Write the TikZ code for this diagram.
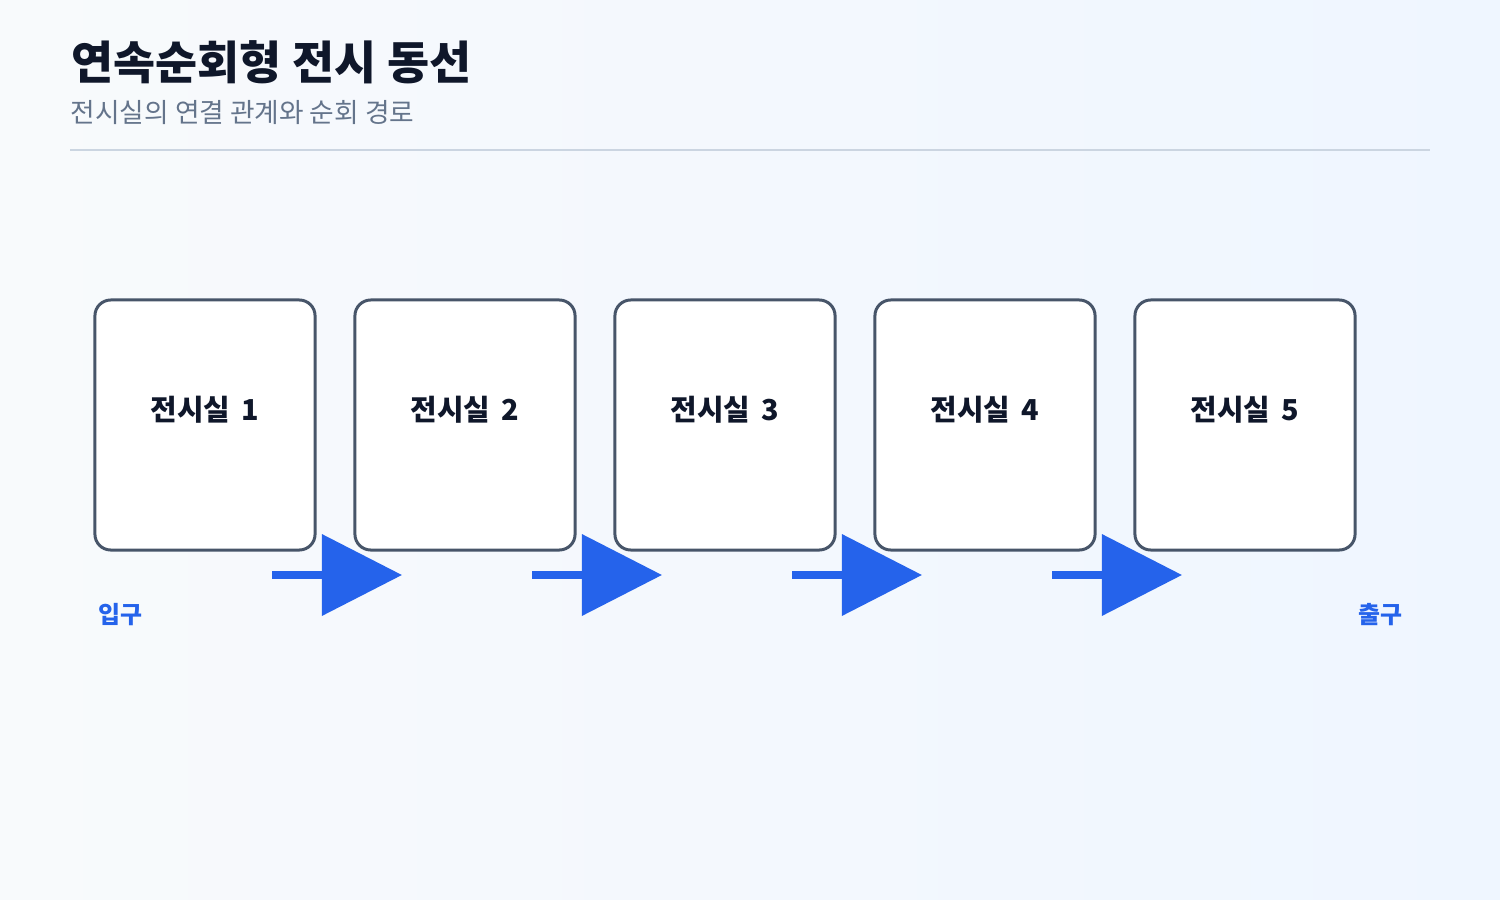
\documentclass[tikz,border=0pt]{standalone}
\usepackage{fontspec}
\setmainfont{Noto Sans CJK KR}
\usetikzlibrary{arrows.meta,positioning}
\definecolor{roomline}{HTML}{475569}
\definecolor{flowblue}{HTML}{2563EB}
\definecolor{titlecol}{HTML}{0F172A}
\definecolor{subcol}{HTML}{64748B}
\definecolor{rulecol}{HTML}{CBD5E1}
\definecolor{bgleft}{HTML}{F8FAFC}
\definecolor{bgright}{HTML}{EFF6FF}
\tikzset{
    room/.style={draw=roomline, line width=0.85pt, rounded corners=4.5pt, fill=white,
        minimum width=62.6pt, minimum height=71.1pt},
    roomlabel/.style={font=\fontsize{8.2}{9}\selectfont\bfseries, text=titlecol},
    flow/.style={draw=flowblue, line width=2pt, -{Triangle[length=22.8pt,width=22.8pt]}},
    gate/.style={font=\fontsize{6.8}{8}\selectfont\bfseries, text=flowblue}
}
\begin{document}
\begin{tikzpicture}[x=0.01cm,y=-0.01cm]
    \shade[left color=bgleft, right color=bgright] (0,0) rectangle (1500,900);
    \useasboundingbox (0,0) rectangle (1500,900);
    \node (title) [anchor=west, inner sep=0pt, font=\fontsize{13}{15}\selectfont\bfseries, text=titlecol] at (71,62) {연속순회형 전시 동선};
    \node (subtitle) [anchor=west, inner sep=0pt, font=\fontsize{7.6}{9}\selectfont, text=subcol] at (70,113) {전시실의 연결 관계와 순회 경로};
    \draw [rulecol, line width=0.85pt] (70,150) -- (1430,150);
    % rooms
    \foreach \i in {1,...,5} {
        \node (room\i) [room] at ({205+260*(\i-1)},425) {};
        \node (label\i) [roomlabel] at ({205+260*(\i-1)},410) {전시실\, \i};
    }
    % arrows between rooms
    \foreach \i in {1,...,4} {
        \coordinate (from\i) at ({272+260*(\i-1)},575);
        \coordinate (to\i) at ({402+260*(\i-1)},575);
        \draw [flow] (from\i) -- (to\i);
    }
    \node (entry) [gate] at (120,615) {입구};
    \node (exit) [gate] at (1380,615) {출구};
\end{tikzpicture}
\end{document}
